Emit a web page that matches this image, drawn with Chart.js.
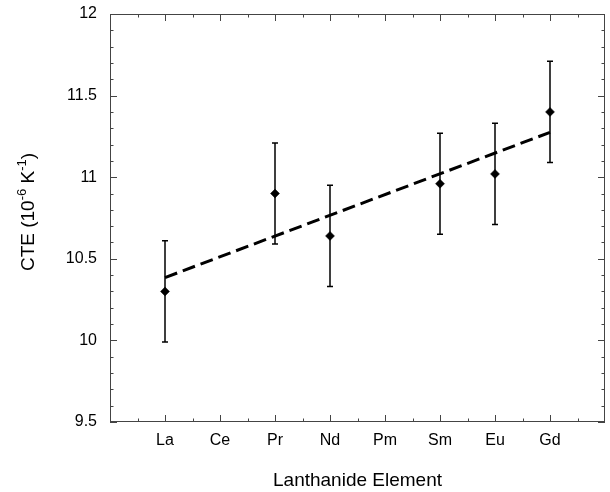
<!DOCTYPE html>
<html>
<head>
<meta charset="utf-8">
<script src="https://cdn.jsdelivr.net/npm/chart.js@4"></script>
<style>
  html, body { margin: 0; padding: 0; background: #fff; }
  #wrap { width: 610px; height: 492px; }
</style>
</head>
<body>
<div id="wrap"><canvas id="cte"></canvas></div>
<script>
// lanthanide series on the x axis (La = 1 ... Gd = 8)
const elements = ['La', 'Ce', 'Pr', 'Nd', 'Pm', 'Sm', 'Eu', 'Gd'];

// measured CTE values (10^-6 K^-1) and error bar half-widths
const measuredEls = ['La', 'Pr', 'Nd', 'Sm', 'Eu', 'Gd'];
const cteValues  = [10.30, 10.90, 10.64, 10.96, 11.02, 11.40];
const cteErrors  = [0.31, 0.31, 0.31, 0.31, 0.31, 0.31];

// linear fit, end points
const fitEls    = ['La', 'Gd'];
const fitValues = [10.385, 11.275];

// y axis tick labels
const yTicks = [9.5, 10, 10.5, 11, 11.5, 12];

const xOf = el => elements.indexOf(el) + 1;
const FONT = "'Liberation Sans', Arial, sans-serif";

// error bars under the markers
const errorBars = {
  id: 'errorBars',
  beforeDatasetsDraw(chart) {
    const { ctx, scales: { x, y } } = chart;
    ctx.save();
    ctx.strokeStyle = '#000';
    ctx.lineWidth = 1.5;
    measuredEls.forEach((el, i) => {
      const px = x.getPixelForValue(xOf(el));
      const top = y.getPixelForValue(cteValues[i] + cteErrors[i]);
      const bot = y.getPixelForValue(cteValues[i] - cteErrors[i]);
      ctx.beginPath();
      ctx.moveTo(px, top); ctx.lineTo(px, bot);
      ctx.moveTo(px - 3, top); ctx.lineTo(px + 3, top);
      ctx.moveTo(px - 3, bot); ctx.lineTo(px + 3, bot);
      ctx.stroke();
    });
    ctx.restore();
  }
};

// box frame with inward ticks on all sides + y title with superscripts
const frame = {
  id: 'frame',
  afterDraw(chart) {
    const { ctx, chartArea: a, scales: { x, y } } = chart;
    ctx.save();
    ctx.strokeStyle = '#444';
    ctx.lineWidth = 1;
    ctx.strokeRect(a.left + 0.5, a.top + 0.5, a.right - a.left - 1, a.bottom - a.top - 1);
    ctx.beginPath();
    for (let k = 0; k <= 25; k++) {
      const v = 9.5 + k * 0.1;
      const py = Math.round(y.getPixelForValue(v)) + 0.5;
      const len = k % 5 === 0 ? 7 : 3.5;
      ctx.moveTo(a.left, py); ctx.lineTo(a.left + len, py);
      ctx.moveTo(a.right, py); ctx.lineTo(a.right - len, py);
    }
    for (let k = 1; k < 18; k++) {
      const v = k * 0.5;
      const px = Math.round(x.getPixelForValue(v)) + 0.5;
      const len = k % 2 === 0 ? 7 : 3.5;
      ctx.moveTo(px, a.bottom); ctx.lineTo(px, a.bottom - len);
      ctx.moveTo(px, a.top); ctx.lineTo(px, a.top + len);
    }
    ctx.stroke();

    // y axis title: CTE (10^-6 K^-1)
    const parts = [['CTE (10', 19, 0], ['-6', 13, -8], [' K', 19, 0], ['-1', 13, -8], [')', 19, 0]];
    let w = 0;
    parts.forEach(p => { ctx.font = p[1] + 'px ' + FONT; w += ctx.measureText(p[0]).width; });
    ctx.translate(33.5, 212);
    ctx.rotate(-Math.PI / 2);
    ctx.fillStyle = '#000';
    ctx.textBaseline = 'alphabetic';
    let cx = -w / 2;
    parts.forEach(p => {
      ctx.font = p[1] + 'px ' + FONT;
      ctx.fillText(p[0], cx, p[2]);
      cx += ctx.measureText(p[0]).width;
    });
    ctx.restore();
  }
};

new Chart(document.getElementById('cte'), {
  type: 'scatter',
  data: {
    datasets: [
      {
        label: 'Linear fit',
        type: 'line',
        data: fitEls.map((el, i) => ({ x: xOf(el), y: fitValues[i] })),
        borderColor: '#000',
        borderWidth: 3,
        borderDash: [13, 6],
        pointRadius: 0,
        fill: false,
        order: 2
      },
      {
        label: 'CTE',
        data: measuredEls.map((el, i) => ({ x: xOf(el), y: cteValues[i] })),
        pointStyle: 'rectRot',
        pointRadius: 4.5,
        pointBackgroundColor: '#000',
        pointBorderColor: '#000',
        pointBorderWidth: 0.5,
        order: 1
      }
    ]
  },
  options: {
    responsive: true,
    maintainAspectRatio: false,
    animation: false,
    events: [],
    layout: { padding: { top: 14, right: 5, left: 0, bottom: 0 } },
    plugins: { legend: { display: false }, tooltip: { enabled: false } },
    scales: {
      x: {
        type: 'linear',
        min: 0, max: 9,
        grid: { display: false, drawTicks: false },
        border: { display: false },
        afterBuildTicks: s => { s.ticks = elements.map((e, i) => ({ value: i + 1 })); },
        afterFit: s => { s.height = 70; s.paddingLeft = 0; s.paddingRight = 0; },
        ticks: {
          color: '#000',
          padding: 9,
          font: { family: FONT, size: 16 },
          maxRotation: 0,
          callback: v => elements[v - 1] || ''
        },
        title: {
          display: true,
          text: 'Lanthanide Element',
          color: '#000',
          font: { family: FONT, size: 19 },
          padding: { top: 19, bottom: 0 }
        }
      },
      y: {
        min: 9.5, max: 12,
        grid: { display: false, drawTicks: false },
        border: { display: false },
        afterBuildTicks: s => { s.ticks = yTicks.map(v => ({ value: v })); },
        afterFit: s => { s.width = 110; s.paddingTop = 0; s.paddingBottom = 0; },
        ticks: {
          color: '#000',
          padding: 13,
          font: { family: FONT, size: 16 },
          callback: v => String(v)
        }
      }
    }
  },
  plugins: [errorBars, frame]
});
</script>
</body>
</html>
